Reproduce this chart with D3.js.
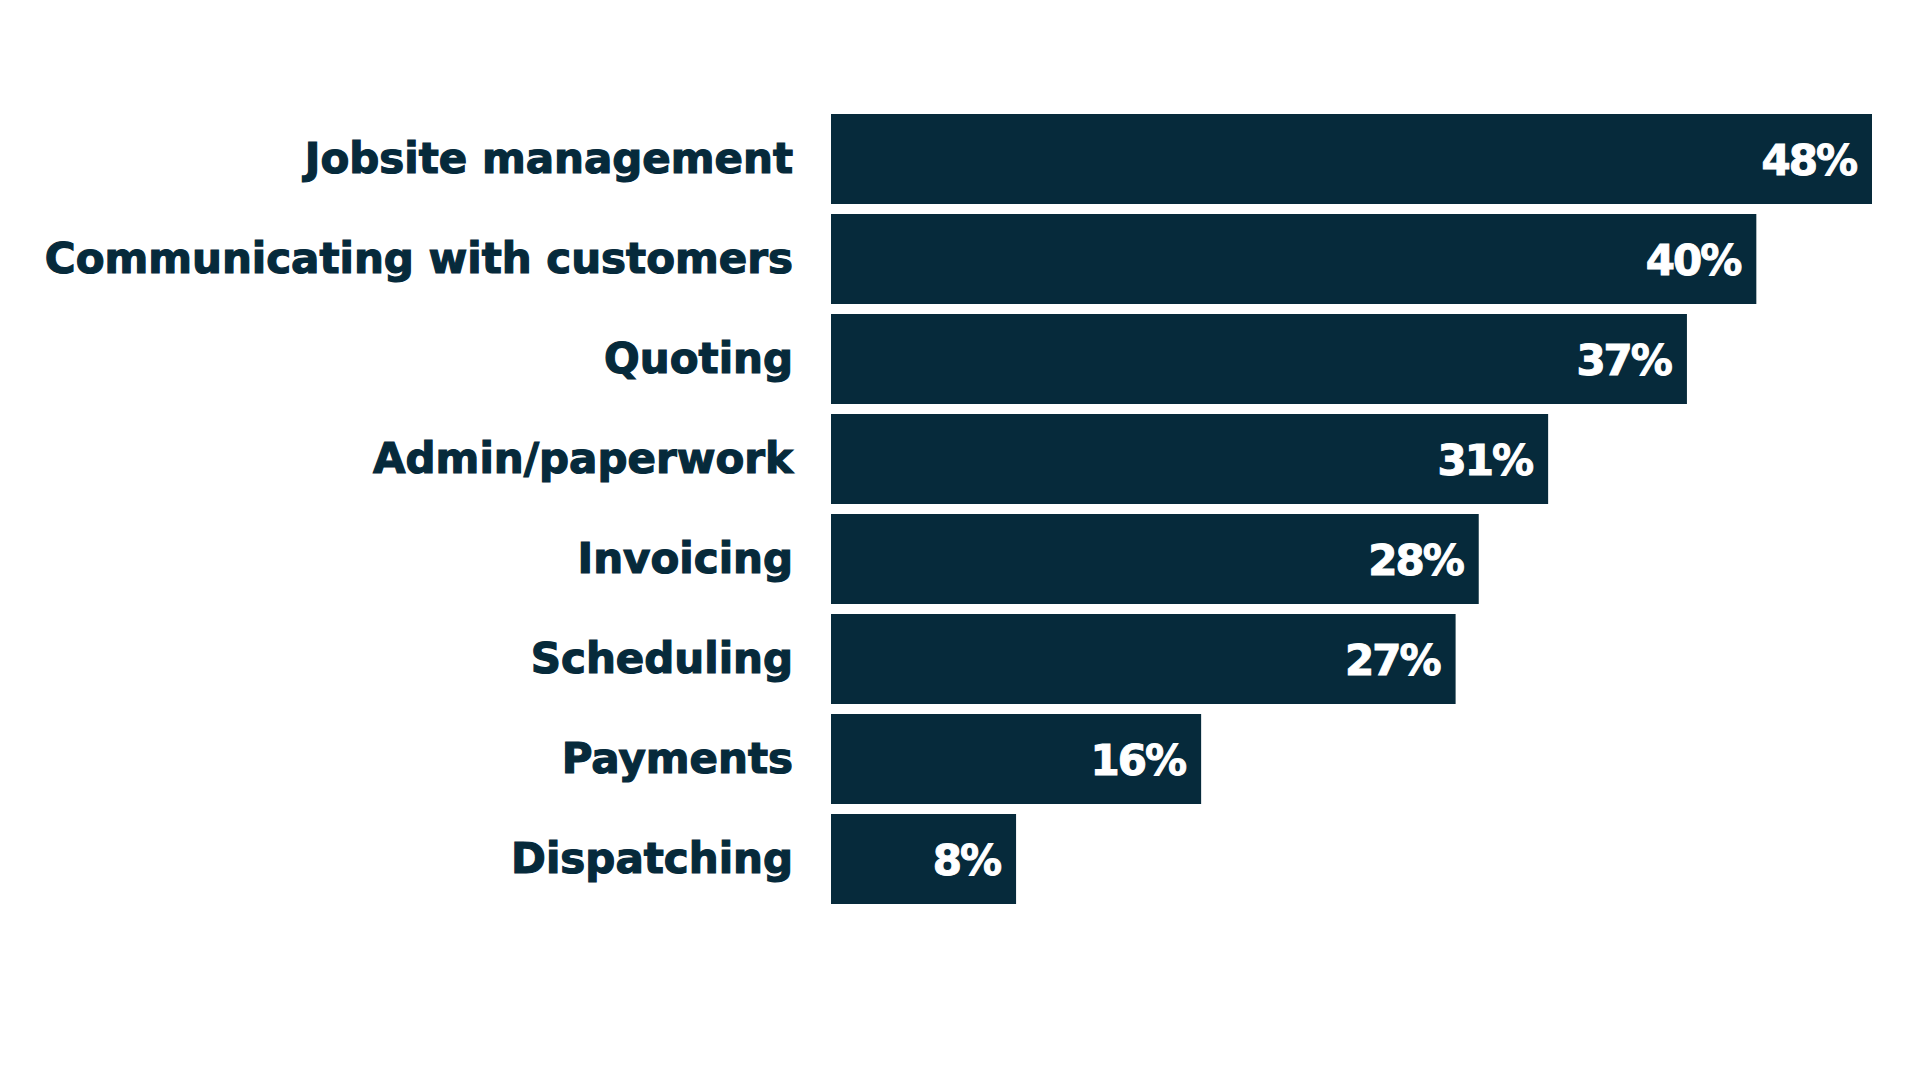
<!DOCTYPE html>
<html>
<head>
<meta charset="utf-8">
<script src="https://cdn.jsdelivr.net/npm/d3@7"></script>
<style>
  body { margin: 0; background: #fff; }
  .label { font-family: "DejaVu Sans", sans-serif; font-weight: bold; fill: #062a3b; stroke: #062a3b; stroke-width: 1.2px; }
  .value { font-family: "DejaVu Sans", sans-serif; font-weight: bold; fill: #fff; stroke: #fff; stroke-width: 1px; }
</style>
</head>
<body>
<div id="chart"></div>
<script>
const categories = ["Jobsite management", "Communicating with customers", "Quoting", "Admin/paperwork",
  "Invoicing", "Scheduling", "Payments", "Dispatching"];
const values = [48, 40, 37, 31, 28, 27, 16, 8];

function createChart() {
  const width = 1920, height = 1080;
  const margin = { top: 114, right: 48, bottom: 176, left: 831 };

  const svg = d3.select("#chart")
    .append("svg")
    .attr("width", width)
    .attr("height", height);

  const data = categories.map((c, i) => ({ name: c, value: values[i] }));

  // the longest bar runs past the frame in the original, so the scale is clamped
  const xScale = d3.scaleLinear()
    .domain([0, 45])
    .range([margin.left, width - margin.right])
    .clamp(true);

  const yScale = d3.scaleBand()
    .domain(categories)
    .range([margin.top, height - margin.bottom])
    .paddingInner(0.1)
    .paddingOuter(0);

  svg.selectAll(".bar")
    .data(data)
    .enter()
    .append("rect")
    .attr("class", "bar")
    .attr("x", xScale(0))
    .attr("y", d => yScale(d.name))
    .attr("width", d => xScale(d.value) - xScale(0))
    .attr("height", yScale.bandwidth())
    .attr("fill", "#062a3b");

  svg.selectAll(".label")
    .data(data)
    .enter()
    .append("text")
    .attr("class", "label")
    .attr("x", xScale(0) - 38)
    .attr("y", d => yScale(d.name) + yScale.bandwidth() / 2)
    .attr("dy", "0.33em")
    .attr("text-anchor", "end")
    .style("font-size", "42px")
    .text(d => d.name);

  svg.selectAll(".value")
    .data(data)
    .enter()
    .append("text")
    .attr("class", "value")
    .attr("x", d => xScale(d.value) - 16)
    .attr("y", d => yScale(d.name) + yScale.bandwidth() / 2)
    .attr("dy", "0.37em")
    .attr("text-anchor", "end")
    .style("font-size", "42px")
    .style("letter-spacing", "-2px")
    .text(d => d.value + "%");
}

createChart();
</script>
</body>
</html>
